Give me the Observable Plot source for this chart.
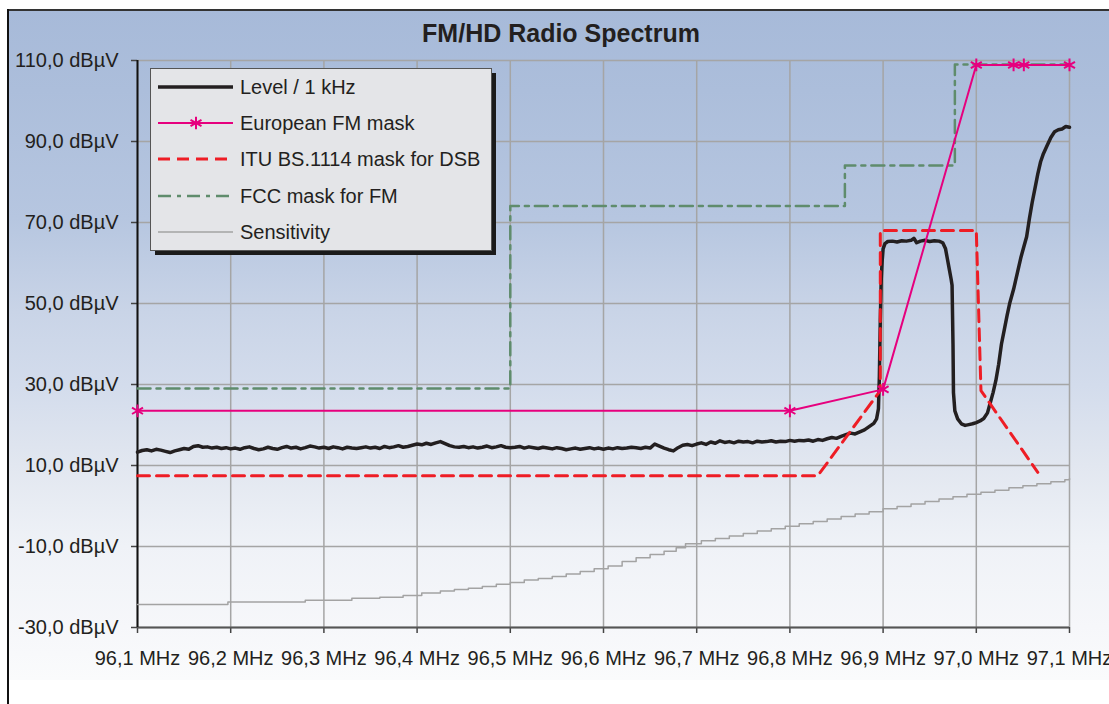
<!DOCTYPE html>
<html>
<head>
<meta charset="utf-8">
<script src="https://cdn.jsdelivr.net/npm/d3@7"></script>
<script src="https://cdn.jsdelivr.net/npm/@observablehq/plot@0.6"></script>
<style>
  body { margin: 0; background: #ffffff; font-family: "Liberation Sans", Arial, sans-serif; }
  #wrap { position: relative; width: 1109px; height: 704px; overflow: hidden; background: #fff; }
  #bg { position: absolute; left: 8px; top: 10px; width: 1101px; height: 670px;
        background: linear-gradient(to bottom, #a7bad9 0%, #acbedb 12%, #b6c6e0 31%, #c9d4e7 45%, #d3dcec 56%, #e2e7f0 68%, #eff2f7 80%, #f6f7fa 92%, #fafbfc 100%); }
  #frameTop { position: absolute; left: 7px; top: 9px; width: 1102px; height: 2px; background: #333; }
  #frameLeft { position: absolute; left: 7px; top: 9px; width: 2px; height: 695px; background: #111; }
  #chart { position: absolute; left: 0; top: 0; }
  #overlay { position: absolute; left: 0; top: 0; pointer-events: none; }
</style>
</head>
<body>
<div id="wrap">
  <div id="bg"></div>
  <div id="frameTop"></div>
  <div id="frameLeft"></div>
  <div id="chart"></div>
  <svg id="overlay" width="1109" height="704" font-family="Liberation Sans, Arial, sans-serif">
    <text x="561" y="42" text-anchor="middle" font-size="25" font-weight="bold" fill="#231f20">FM/HD Radio Spectrum</text>
    <g id="legend"></g>
  </svg>
</div>
<script>
// ---------- data ----------
const xTicks = [96.1, 96.2, 96.3, 96.4, 96.5, 96.6, 96.7, 96.8, 96.9, 97.0, 97.1];
const yTicks = [-30, -10, 10, 30, 50, 70, 90, 110];

// Level / 1 kHz: sampled every 5 kHz from 96.100 to 96.885 MHz
const levelStart = 96.1;
const levelStep = 0.005;
const levelFlat = [
  13.3, 13.7, 13.9, 13.6, 14.0, 13.8, 13.5, 13.2, 13.6, 13.9, 14.2, 14.0, 14.7, 14.9, 14.5, 14.6, 14.3, 14.5, 14.2, 14.4, 14.1,
  14.3, 14.0, 14.4, 14.6, 14.2, 13.9, 14.1, 14.5, 14.2, 14.0, 14.4, 14.7, 14.3, 14.5, 14.1, 14.4, 14.8, 14.6, 14.3, 14.5,
  14.2, 14.6, 14.4, 14.1, 14.5, 14.3, 14.2, 14.4, 14.6, 14.3, 14.5, 14.2, 14.7, 14.4, 14.6, 14.9, 14.5, 14.7, 15.0, 15.3,
  15.1, 15.5, 15.2, 15.6, 15.9, 15.4, 14.9, 14.6, 14.5, 14.7, 14.4, 14.6, 14.3, 14.5, 14.8, 14.4, 14.6, 14.9, 14.5, 14.4,
  14.5, 14.7, 14.3, 14.6, 14.4, 14.2, 14.5, 14.3, 14.1, 14.4, 14.2, 13.9, 14.1, 14.3, 14.0, 14.2, 14.4, 14.1, 14.3, 14.0,
  14.3, 14.1, 14.4, 14.2, 14.3, 14.5, 14.4, 14.2, 14.5, 14.3, 15.3, 14.8, 14.3, 13.9, 13.6, 14.4, 15.0, 15.2, 14.9, 15.3,
  15.6, 15.2, 15.8, 15.5, 16.1, 15.7, 15.9, 15.6, 16.0, 15.8, 15.9, 15.6, 16.0, 15.8, 15.9, 16.1, 15.8, 16.0, 15.9, 16.2,
  16.0, 16.2, 16.1, 16.3, 16.0, 16.4, 16.2, 16.6, 16.9, 16.7, 17.2, 17.6, 18.0, 17.8, 18.3, 18.8, 19.6
];
// Level / 1 kHz: the signal region, [MHz, dBµV]
const levelSignal = [
  [96.890, 20.4], [96.893, 21.5], [96.895, 24.0], [96.896, 32.0], [96.897, 46.0], [96.898, 56.0],
  [96.899, 60.5], [96.900, 63.5], [96.902, 64.8], [96.905, 65.3], [96.910, 65.4], [96.915, 65.2],
  [96.920, 65.5], [96.925, 65.4], [96.930, 65.6], [96.933, 66.1], [96.936, 65.0], [96.940, 65.4],
  [96.945, 65.6], [96.950, 65.3], [96.955, 65.5], [96.960, 65.4], [96.964, 65.0], [96.967, 63.5],
  [96.969, 61.0], [96.971, 58.5], [96.973, 56.0], [96.974, 54.5], [96.975, 40.0], [96.9755, 28.0],
  [96.977, 23.5], [96.980, 21.5], [96.984, 20.3], [96.988, 19.9], [96.992, 20.1], [96.996, 20.3],
  [97.000, 20.6], [97.004, 21.0], [97.008, 21.6], [97.012, 23.0], [97.015, 25.5], [97.018, 28.0],
  [97.021, 31.0], [97.024, 35.0], [97.027, 40.0], [97.030, 43.5], [97.033, 47.0], [97.036, 50.2],
  [97.040, 53.5], [97.044, 57.5], [97.048, 61.5], [97.051, 64.0], [97.054, 66.5], [97.057, 71.0],
  [97.060, 75.0], [97.063, 78.5], [97.066, 82.0], [97.069, 85.0], [97.072, 87.0], [97.076, 89.0],
  [97.080, 91.0], [97.084, 92.4], [97.088, 92.9], [97.092, 93.1], [97.096, 93.7], [97.100, 93.5]
];

// European FM mask
const euFreq = [96.1, 96.8, 96.9, 97.0, 97.04, 97.051, 97.1];
const euDb   = [23.5, 23.5, 28.8, 108.9, 108.9, 108.9, 108.9];

// ITU BS.1114 mask for DSB
const ituFreq = [96.1, 96.83, 96.897, 96.897, 97.0, 97.005, 97.066];
const ituDb   = [7.5, 7.5, 28.5, 68.0, 68.0, 28.5, 8.3];

// FCC mask for FM
const fccFreq = [96.1, 96.5, 96.5, 96.859, 96.859, 96.977, 96.977, 97.1];
const fccDb   = [29.0, 29.0, 74.1, 74.1, 84.1, 84.1, 109.0, 109.0];

// Sensitivity (staircase)
const sensFreq = [96.1, 96.197, 96.28, 96.33, 96.36, 96.385, 96.405, 96.425, 96.44, 96.455, 96.47, 96.485, 96.5,
  96.515, 96.53, 96.545, 96.56, 96.575, 96.59, 96.605, 96.62, 96.635, 96.65, 96.665, 96.678, 96.688, 96.705,
  96.72, 96.735, 96.75, 96.765, 96.78, 96.795, 96.81, 96.825, 96.84, 96.855, 96.87, 96.885, 96.9, 96.915,
  96.93, 96.945, 96.96, 96.975, 96.99, 97.005, 97.02, 97.035, 97.05, 97.065, 97.08, 97.095, 97.1];
const sensDb = [-24.3, -23.7, -23.3, -22.8, -22.5, -22.1, -21.5, -21.0, -20.6, -20.3, -19.9, -19.3, -18.9,
  -18.3, -17.9, -17.4, -16.8, -16.2, -15.5, -14.8, -13.7, -12.8, -12.0, -11.2, -10.3, -9.3, -8.6,
  -8.0, -7.4, -6.8, -6.2, -5.6, -5.0, -4.4, -3.8, -3.2, -2.6, -2.0, -1.4, -0.7, -0.1,
  0.5, 1.1, 1.7, 2.3, 2.9, 3.4, 3.9, 4.5, 5.0, 5.5, 6.0, 6.5, 6.8];

// ---------- build tables ----------
const level = levelFlat.map((v, i) => ({f: levelStart + i * levelStep, v}))
  .concat(levelSignal.map(([f, v]) => ({f, v})));
const eu = euFreq.map((f, i) => ({f, v: euDb[i]}));
const itu = ituFreq.map((f, i) => ({f, v: ituDb[i]}));
const fcc = fccFreq.map((f, i) => ({f, v: fccDb[i]}));
const sens = sensFreq.map((f, i) => ({f, v: sensDb[i]}));

const C = {
  level: "#231f20", eu: "#e6007e", itu: "#ee1d25", fcc: "#5f8c6c", sens: "#a3a3a3", grid: "#a5a5a5"
};
const fmtX = d => d.toFixed(1).replace(".", ",") + " MHz";
const fmtY = d => d.toFixed(1).replace(".", ",") + " dBµV";

const chart = Plot.plot({
  width: 1109,
  height: 704,
  marginLeft: 137,
  marginRight: 40,
  marginTop: 60,
  marginBottom: 77,
  x: {domain: [96.1, 97.1]},
  y: {domain: [-30, 110]},
  style: {background: "transparent", fontFamily: "Liberation Sans, Arial, sans-serif", fontSize: "20px", color: "#231f20", overflow: "visible"},
  marks: [
    Plot.gridX(xTicks, {stroke: C.grid, strokeOpacity: 1, strokeWidth: 1.5}),
    Plot.gridY(yTicks, {stroke: C.grid, strokeOpacity: 1, strokeWidth: 1.5}),
    Plot.axisX(xTicks, {tickFormat: fmtX, tickSize: 6, tickPadding: 17, label: null, stroke: "#444", strokeWidth: 1.5, fill: "#231f20"}),
    Plot.axisY(yTicks, {tickFormat: fmtY, tickSize: 6, tickPadding: 13, label: null, stroke: "#444", strokeWidth: 1.5, fill: "#231f20"}),
    Plot.ruleY([-30], {stroke: "#555", strokeWidth: 2}),
    Plot.ruleX([96.1], {stroke: "#111", strokeWidth: 2}),
    Plot.line(sens, {x: "f", y: "v", curve: "step-after", stroke: C.sens, strokeWidth: 1.5}),
    Plot.line(level, {x: "f", y: "v", stroke: C.level, strokeWidth: 3.5, strokeLinejoin: "round"}),
    Plot.line(fcc, {x: "f", y: "v", stroke: C.fcc, strokeWidth: 2.5, strokeDasharray: "13,6,4,6"}),
    Plot.line(itu, {x: "f", y: "v", stroke: C.itu, strokeWidth: 3, strokeDasharray: "12,7"}),
    Plot.line(eu, {x: "f", y: "v", stroke: C.eu, strokeWidth: 2}),
    Plot.dot(eu, {x: "f", y: "v", symbol: "asterisk", r: 6, stroke: C.eu, strokeWidth: 2})
  ]
});
document.getElementById("chart").appendChild(chart);

// ---------- legend ----------
const legendItems = [
  {label: "Level / 1 kHz", color: C.level, width: 3.5, dash: null, marker: false},
  {label: "European FM mask", color: C.eu, width: 2, dash: null, marker: true},
  {label: "ITU BS.1114 mask for DSB", color: C.itu, width: 3, dash: "12,7", marker: false},
  {label: "FCC mask for FM", color: C.fcc, width: 2.5, dash: "13,6,4,6", marker: false},
  {label: "Sensitivity", color: C.sens, width: 1.5, dash: null, marker: false}
];
const lg = d3.select("#legend");
lg.append("rect").attr("x", 155).attr("y", 73).attr("width", 341).attr("height", 182).attr("fill", "#1a1a1a");
lg.append("rect").attr("x", 150.5).attr("y", 68.5).attr("width", 341).attr("height", 182)
  .attr("fill", "#e4e5e8").attr("stroke", "#555").attr("stroke-width", 1);
const rowY = [87, 123, 159, 196, 232];
legendItems.forEach((it, i) => {
  const y = rowY[i];
  lg.append("line").attr("x1", 158).attr("x2", 233).attr("y1", y).attr("y2", y)
    .attr("stroke", it.color).attr("stroke-width", it.width).attr("stroke-dasharray", it.dash);
  if (it.marker) {
    lg.append("path").attr("transform", `translate(196,${y})`)
      .attr("d", d3.symbol(d3.symbolAsterisk, Math.PI * 36)())
      .attr("stroke", it.color).attr("stroke-width", 2).attr("fill", "none");
  }
  lg.append("text").attr("x", 240).attr("y", y + 7).attr("font-size", 20).attr("fill", "#231f20").text(it.label);
});
</script>
</body>
</html>
